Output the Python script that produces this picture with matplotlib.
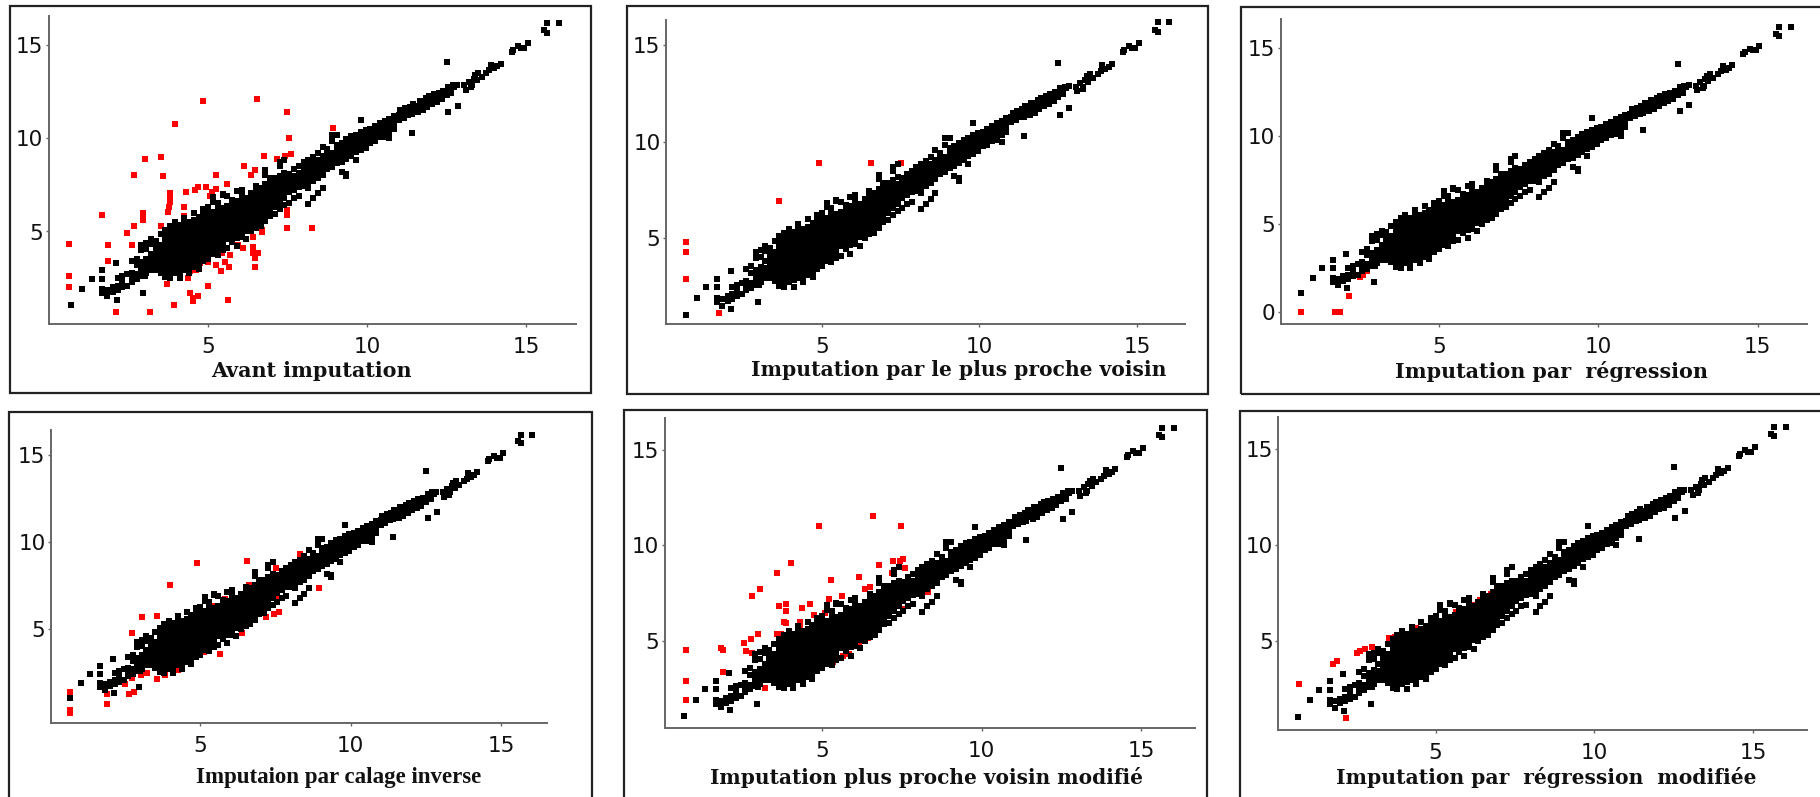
import matplotlib
matplotlib.use("Agg")
import matplotlib.pyplot as plt
from matplotlib.patches import Rectangle

W, H = 1820, 797

# Dense cloud shared by all panels: column x values and y values read per column
cloud_x = [2.0, 2.15, 2.3, 2.45, 2.6, 2.75, 2.9, 3.05, 3.2, 3.35, 3.5, 3.65, 3.8, 3.95, 4.1, 4.25, 4.4, 4.55, 4.7, 4.85,
           5.0, 5.15, 5.3, 5.45, 5.6, 5.75, 5.9, 6.05, 6.2, 6.35, 6.5, 6.65, 6.8, 6.95, 7.1, 7.25, 7.4, 7.55, 7.7, 7.85,
           8.0, 8.15, 8.3, 8.45, 8.6, 8.75, 8.9, 9.05, 9.2, 9.35, 9.5, 9.65, 9.8, 9.95, 10.1, 10.25, 10.4, 10.55, 10.7, 10.85]
cloud_y = [
    [1.75, 2.0], [1.85, 2.1, 2.5], [2.0, 2.3, 2.6], [2.1, 2.7], [2.3, 2.55, 2.8, 3.4],
    [2.45, 2.7, 3.2, 3.55], [2.6, 2.85, 3.1, 3.35, 4.0, 4.3], [2.75, 3.0, 3.25, 3.5, 4.05, 4.4],
    [2.95, 3.2, 3.45, 3.8, 4.35, 4.6], [2.95, 3.2, 3.45, 3.7, 3.95, 4.2, 4.5],
    [2.8, 3.05, 3.3, 3.55, 3.8, 4.05, 4.3, 4.85],
    [2.55, 2.8, 3.05, 3.3, 3.55, 3.8, 4.05, 4.3, 4.55, 4.8, 5.1],
    [2.5, 2.8, 3.0, 3.25, 3.5, 3.75, 4.0, 4.25, 4.5, 4.75, 5.0, 5.3],
    [2.75, 3.0, 3.25, 3.5, 3.75, 4.0, 4.25, 4.5, 4.75, 5.0, 5.2, 5.5],
    [2.5, 2.85, 3.1, 3.35, 3.6, 3.85, 4.1, 4.35, 4.6, 4.85, 5.1, 5.35],
    [2.95, 3.2, 3.5, 3.75, 4.0, 4.25, 4.5, 4.75, 5.0, 5.25, 5.5, 5.75],
    [2.75, 3.0, 3.25, 3.5, 3.75, 4.0, 4.25, 4.5, 4.75, 5.0, 5.25, 5.5],
    [3.1, 3.35, 3.6, 3.85, 4.1, 4.35, 4.6, 4.85, 5.1, 5.35, 5.6, 6.0],
    [3.0, 3.3, 3.55, 3.8, 4.05, 4.3, 4.55, 4.8, 5.05, 5.3, 5.55, 5.8],
    [3.4, 3.65, 3.9, 4.15, 4.4, 4.65, 4.9, 5.15, 5.4, 5.65, 5.9, 6.2],
    [3.55, 3.8, 4.05, 4.3, 4.55, 4.8, 5.05, 5.3, 5.55, 5.8, 6.05, 6.3],
    [3.8, 4.05, 4.3, 4.55, 4.8, 5.05, 5.3, 5.55, 5.8, 6.05, 6.6, 6.85],
    [3.75, 4.0, 4.25, 4.5, 4.75, 5.0, 5.25, 5.5, 5.75, 6.0, 6.25, 6.55],
    [4.0, 4.25, 4.5, 4.75, 5.0, 5.25, 5.5, 5.75, 6.0, 6.25, 6.95, 7.0],
    [4.1, 4.6, 4.85, 5.1, 5.35, 5.6, 5.85, 6.1, 6.35, 6.9],
    [4.45, 4.7, 4.95, 5.2, 5.45, 5.7, 5.95, 6.2, 6.45, 6.7],
    [4.2, 4.65, 4.9, 5.15, 5.4, 5.65, 5.9, 6.15, 6.4, 6.65, 7.15],
    [4.7, 4.95, 5.2, 5.45, 5.7, 5.95, 6.2, 6.45, 6.7, 6.95, 7.25],
    [4.6, 5.05, 5.3, 5.55, 5.8, 6.05, 6.3, 6.55, 6.8],
    [5.0, 5.25, 5.5, 5.75, 6.0, 6.25, 6.5, 6.75, 7.05],
    [5.2, 5.45, 5.7, 5.95, 6.2, 6.45, 6.7, 6.95, 7.2, 7.45],
    [5.3, 5.6, 5.85, 6.1, 6.35, 6.6, 6.85, 7.1, 7.35],
    [5.55, 5.8, 6.05, 6.3, 6.55, 6.8, 7.05, 7.3, 7.55, 8.05, 8.3],
    [5.85, 6.1, 6.35, 6.6, 6.85, 7.1, 7.35, 7.6, 7.85],
    [5.95, 6.3, 6.55, 6.8, 7.05, 7.3, 7.55, 7.85],
    [6.2, 6.55, 6.8, 7.05, 7.3, 7.55, 7.8, 8.0, 8.5, 8.7],
    [6.4, 6.8, 7.05, 7.3, 7.55, 7.8, 8.15, 8.85],
    [6.55, 7.1, 7.35, 7.6, 7.85, 8.1],
    [6.8, 7.25, 7.5, 7.75, 8.0, 8.35],
    [6.9, 7.4, 7.65, 7.9, 8.15, 8.5],
    [7.45, 7.7, 7.95, 8.2, 8.4, 8.7],
    [6.5, 7.35, 7.6, 7.85, 8.1, 8.35, 8.6, 8.85],
    [6.8, 7.7, 7.95, 8.2, 8.45, 8.7, 9.0],
    [7.05, 7.85, 8.1, 8.35, 8.6, 8.85, 9.2],
    [7.35, 8.05, 8.3, 8.55, 8.8, 9.05, 9.55],
    [8.35, 8.6, 8.85, 9.1, 9.4],
    [8.45, 8.7, 8.95, 9.2, 9.85, 10.18],
    [8.65, 8.9, 9.15, 9.4, 9.65, 10.18],
    [8.2, 8.75, 9.0, 9.25, 9.5, 9.75],
    [7.98, 8.1, 8.9, 9.15, 9.4, 9.65, 9.95],
    [9.05, 9.35, 9.6, 9.85, 10.1],
    [8.85, 9.25, 9.5, 9.75, 10.0, 10.2],
    [9.35, 9.6, 9.85, 10.1, 10.35, 10.98],
    [9.5, 9.75, 10.0, 10.25, 10.45],
    [9.75, 10.0, 10.25, 10.5],
    [9.85, 10.1, 10.35, 10.65],
    [10.05, 10.3, 10.55, 10.8],
    [10.09, 10.2, 10.45, 10.7, 10.95],
    [10.0, 10.35, 10.6, 10.85, 11.05],
    [10.5, 10.75, 11.0, 11.2],
]

# Sparse points outside the dense cloud, also shared
tail_x = [0.67, 1.04, 1.33, 1.67, 1.67, 1.67, 1.67, 1.83, 1.83, 1.98, 2.12, 2.1, 2.96, 3.0,
          11.0, 11.15, 11.3, 11.4, 11.5, 11.6, 11.75, 11.9, 12.0, 12.1, 12.2, 12.35, 12.5, 12.6, 12.75,
          11.0, 11.15, 11.3, 11.45, 11.6, 11.75, 11.9, 12.05, 12.2, 12.35, 12.5, 12.65,
          11.05, 11.2, 11.35, 11.5, 11.65, 11.8, 11.95, 12.1, 12.25, 12.4, 12.55, 12.7, 12.84,
          11.4, 11.45, 11.65, 11.85, 12.5, 12.55, 12.85,
          13.05, 13.1, 13.2, 13.27, 13.3, 13.35, 13.4, 13.45, 13.5, 13.6, 13.75, 13.85, 13.9, 14.0, 14.1, 14.2,
          14.55, 14.6, 14.75, 14.85, 14.95, 15.05, 15.56, 15.67, 15.67, 16.03]
tail_y = [1.05, 1.91, 2.46, 2.91, 2.46, 1.91, 1.7, 1.52, 1.85, 1.87, 1.34, 3.3, 1.7, 2.59,
          11.25, 11.35, 11.45, 11.3, 11.55, 11.65, 11.75, 11.85, 12.0, 12.1, 12.2, 12.35, 12.5, 12.65, 12.75,
          11.0, 11.1, 11.25, 11.5, 11.4, 11.5, 11.7, 11.85, 11.95, 12.1, 12.3, 12.45,
          11.5, 11.6, 11.7, 11.75, 11.9, 12.0, 12.25, 12.35, 12.45, 12.55, 12.75, 12.85, 12.86,
          10.3, 11.85, 12.0, 12.15, 14.08, 11.4, 11.75,
          12.85, 12.6, 13.04, 12.73, 12.85, 13.2, 13.4, 13.1, 13.5, 13.3, 13.5, 13.65, 13.95, 13.75, 13.85, 14.0,
          14.65, 14.75, 14.95, 14.85, 14.85, 15.1, 15.78, 15.67, 16.17, 16.17]

# Red points for each panel
red_a_x = [0.62, 0.62, 0.62, 1.67, 1.84, 1.84, 2.44, 2.67, 2.59, 2.68, 3.01, 3.52, 3.58, 2.94, 2.94, 2.94, 3.52, 3.8, 3.8,
           3.79, 3.77, 3.73, 4.3, 3.95, 4.85, 6.53, 7.48, 7.53, 8.93, 6.75, 7.16, 7.41, 7.6, 6.14, 6.48, 6.36, 5.25, 5.58,
           4.57, 4.69, 4.94, 5.25, 5.12, 5.06, 4.23, 4.23, 8.31, 7.48, 7.48, 7.48, 8.27, 6.69, 6.69, 6.42, 6.42, 5.95, 6.11,
           6.42, 6.57, 6.48, 6.48, 5.43, 5.68, 5.53, 5.64, 5.41, 5.25, 5.0, 4.75, 4.63, 4.44, 4.38, 3.7, 4.98, 4.44, 4.69,
           4.53, 4.51, 5.63, 3.91, 3.17, 2.1]
red_a_y = [4.34, 2.64, 2.0, 5.86, 4.25, 3.41, 4.91, 5.27, 4.25, 8.04, 8.88, 8.98, 7.95, 5.84, 5.63, 6.0, 5.27, 7.05, 6.88,
           6.57, 6.34, 6.07, 7.1, 10.77, 12.0, 12.09, 11.43, 10.02, 10.57, 9.07, 8.9, 9.07, 9.16, 8.52, 8.3, 8.04, 8.04, 7.55,
           7.2, 7.38, 7.38, 7.29, 7.14, 6.91, 6.34, 5.84, 6.82, 5.89, 6.16, 5.2, 5.2, 4.96, 5.09, 4.73, 4.16, 4.29, 4.1,
           3.84, 3.87, 3.57, 3.12, 3.84, 3.75, 3.39, 3.12, 2.86, 3.21, 3.39, 3.3, 2.95, 2.86, 2.5, 2.18, 2.09, 1.7, 1.52,
           1.43, 1.3, 1.34, 1.05, 0.68, 0.68]
red_b_x = [0.68, 0.68, 0.68, 1.74, 3.62, 4.9, 6.56, 7.52, 3.54]
red_b_y = [4.83, 4.27, 2.88, 1.13, 6.94, 8.89, 8.89, 8.89, 4.27]
red_c_x = [0.68, 1.73, 1.81, 1.91, 2.19, 2.51, 2.63, 2.75, 3.05]
red_c_y = [0.0, 0.0, 0.0, 0.0, 0.88, 1.97, 2.1, 2.29, 2.76]
red_d_x = [0.68, 0.68, 0.68, 1.9, 1.9, 2.62, 2.79, 2.49, 2.73, 3.01, 3.22, 3.57, 3.83, 4.26, 2.73, 3.06, 3.56, 4.0, 4.9,
           6.56, 8.94, 5.66, 6.39, 7.18, 7.44, 7.6, 8.31, 5.82, 5.43, 4.68, 6.62, 7.53, 5.13, 7.5]
red_d_y = [1.4, 0.38, 0.21, 1.31, 0.73, 1.31, 1.38, 1.88, 2.21, 2.37, 2.5, 2.12, 2.37, 2.65, 4.81, 5.69, 5.77, 7.54, 8.81,
           8.9, 7.35, 3.56, 4.81, 5.69, 5.88, 5.98, 9.33, 6.75, 6.35, 5.54, 7.56, 6.88, 3.71, 8.52]
red_e_x = [0.73, 0.73, 0.73, 1.82, 1.91, 1.91, 2.57, 2.63, 2.78, 3.0, 2.8, 3.06, 3.6, 4.03, 4.9, 6.59, 7.49, 6.79, 7.23,
           7.45, 7.55, 7.6, 7.18, 6.15, 5.28, 6.36, 6.51, 5.23, 5.64, 3.66, 3.87, 3.87, 4.36, 4.62, 4.75, 3.8, 3.87, 4.31,
           4.31, 3.58, 3.73, 5.08, 3.22, 2.82, 8.33, 6.63, 6.45, 5.67, 5.85, 6.15, 5.33, 4.64, 4.03, 7.54]
red_e_y = [4.53, 2.88, 1.89, 4.62, 4.51, 3.34, 4.9, 4.44, 5.09, 5.35, 7.34, 7.71, 8.55, 9.09, 11.0, 11.54, 11.0, 8.99, 9.18,
           9.18, 9.27, 8.81, 8.55, 8.36, 8.18, 7.71, 7.8, 7.17, 7.34, 6.82, 6.91, 6.54, 6.71, 6.91, 6.36, 6.0, 5.91, 6.0,
           5.82, 5.35, 5.35, 6.43, 2.53, 4.34, 7.57, 5.38, 5.12, 4.2, 4.3, 4.72, 3.86, 3.2, 2.94, 6.66]
red_f_x = [0.69, 1.77, 1.89, 2.17, 2.53, 2.61, 2.77, 3.01, 3.52, 3.73, 4.3, 4.39, 4.99, 5.63, 5.45, 6.23, 6.41, 6.75]
red_f_y = [2.77, 3.8, 3.97, 1.01, 4.36, 4.49, 4.56, 4.7, 5.14, 5.19, 5.57, 5.68, 6.08, 6.53, 6.27, 6.88, 7.14, 7.46]

titles = ["Avant imputation", "Imputation par le plus proche voisin", "Imputation par  régression",
          "Imputaion par calage inverse", "Imputation plus proche voisin modifié", "Imputation par  régression  modifiée"]
x_ticks = [5, 10, 15]
y_ticks_std = [5, 10, 15]
y_ticks_zero = [0, 5, 10, 15]

# pixel layout of each panel
panels = [
    dict(red=(red_a_x, red_a_y), title=titles[0], yt=y_ticks_std, frame=(10, 6, 591, 393), box=(48.6, 575.9, 16, 324),
         xp=(208.2, 526.0), yp=(231.5, 45.0), lab=(311, 371), fs=14.9, fam="DejaVu Serif"),
    dict(red=(red_b_x, red_b_y), title=titles[1], yt=y_ticks_std, frame=(627, 6, 1208, 394), box=(666, 1185, 20, 324.3),
         xp=(822, 1137), yp=(238.3, 45.0), lab=(959, 370), fs=14.6, fam="DejaVu Serif"),
    dict(red=(red_c_x, red_c_y), title=titles[2], yt=y_ticks_zero, frame=(1241, 7, 1835, 394), box=(1280.5, 1807.4, 19.3, 324),
         xp=(1438.9, 1757.7), yp=(223.7, 47.7), lab=(1551, 371), fs=14.9, fam="DejaVu Serif"),
    dict(red=(red_d_x, red_d_y), title=titles[3], yt=y_ticks_std, frame=(9, 411.7, 592, 815), box=(51, 546.7, 430, 723.3),
         xp=(200.4, 501.2), yp=(629.3, 455.0), lab=(339, 777), fs=16.5, fam="Liberation Serif"),
    dict(red=(red_e_x, red_e_y), title=titles[4], yt=y_ticks_std, frame=(624, 410, 1207, 815), box=(664.5, 1194.8, 418.3, 728),
         xp=(822, 1141), yp=(640.7, 450.0), lab=(927, 778), fs=14.5, fam="DejaVu Serif"),
    dict(red=(red_f_x, red_f_y), title=titles[5], yt=y_ticks_std, frame=(1240, 410.7, 1835, 815), box=(1278.2, 1807.4, 416.7, 730),
         xp=(1435.5, 1753), yp=(641, 449.0), lab=(1546, 778), fs=14.6, fam="DejaVu Serif"),
]

black_x = [x for x, col in zip(cloud_x, cloud_y) for _ in col] + tail_x
black_y = [y for col in cloud_y for y in col] + tail_y

fig = plt.figure(figsize=(W / 100, H / 100), dpi=100, facecolor="white")
plt.rcParams["font.family"] = ["DejaVu Sans"]

for p in panels:
    fl, ft, fr, fb = p["frame"]
    fig.add_artist(Rectangle((fl / W, 1 - fb / H), (fr - fl) / W, (fb - ft) / H, transform=fig.transFigure,
                             fill=False, edgecolor="#222222", linewidth=1.6))
    l, r, t, b = p["box"]
    ax = fig.add_axes([l / W, 1 - b / H, (r - l) / W, (b - t) / H])
    sx = (p["xp"][1] - p["xp"][0]) / 10.0
    sy = (p["yp"][0] - p["yp"][1]) / 10.0
    ax.set_xlim(5 + (l - p["xp"][0]) / sx, 5 + (r - p["xp"][0]) / sx)
    ax.set_ylim(5 + (p["yp"][0] - b) / sy, 5 + (p["yp"][0] - t) / sy)
    ax.scatter(p["red"][0], p["red"][1], s=13.5, marker="s", c="#ff0000", linewidths=0, zorder=2, clip_on=False)
    ax.scatter(black_x, black_y, s=13.5, marker="s", c="#000000", linewidths=0, zorder=3, clip_on=False)
    for side in ("top", "right"):
        ax.spines[side].set_visible(False)
    for side in ("left", "bottom"):
        ax.spines[side].set_color("#666666")
        ax.spines[side].set_linewidth(1.4)
    ax.set_xticks(x_ticks)
    ax.set_yticks(p["yt"])
    ax.tick_params(axis="x", length=2.5, width=1, color="#666666", labelsize=15.5, labelcolor="#111111", pad=7)
    ax.tick_params(axis="y", length=2.5, width=1, color="#666666", labelsize=15.5, labelcolor="#111111", pad=1.5)
    fig.text(p["lab"][0] / W, 1 - p["lab"][1] / H, p["title"], ha="center", va="center",
             family=p["fam"], weight="bold", fontsize=p["fs"], color="#111111")

fig.savefig("out.png", dpi=100, facecolor="white")
